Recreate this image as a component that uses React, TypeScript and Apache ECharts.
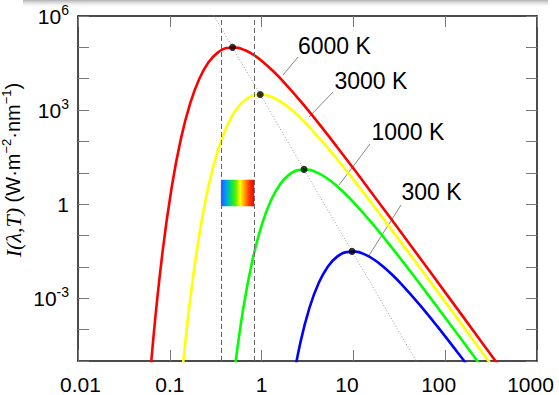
import React, { useEffect, useRef } from "react";
import * as echarts from "echarts";

// Wavelength (µm) and spectral intensity I(λ,T) (W·m⁻²·nm⁻¹)
const lambda6000 = [0.0527, 0.0664, 0.0835, 0.1052, 0.1324, 0.1667, 0.2098, 0.2642, 0.3325, 0.4186, 0.5271, 0.6636, 0.8353, 1.052, 1.324, 1.667, 2.642, 4.186, 6.636, 10.52, 26.42, 66.36, 166.7, 418.6];
const intensity6000 = [1.6e-8, 5.86e-5, 3.126e-2, 3.648, 125.6, 1642, 1.0e4, 33250, 68000, 94970, 98290, 80580, 55230, 33160, 17980, 9050, 1968, 376.4, 66.85, 11.36, 0.3063, 7.909e-3, 2.008e-4, 5.066e-6];

const lambda3000 = [0.1327, 0.1671, 0.2103, 0.2648, 0.3333, 0.4197, 0.5283, 0.665, 0.8373, 1.054, 1.327, 1.671, 2.103, 2.648, 3.333, 5.283, 8.373, 13.27, 21.03, 52.83, 132.7, 333.3];
const intensity3000 = [1.832e-6, 9.763e-4, 0.1139, 3.922, 51.3, 312.3, 1039, 2125, 2967, 3071, 2518, 1726, 1036, 561.9, 282.7, 61.48, 11.76, 2.089, 0.355, 9.57e-3, 2.471e-4, 6.275e-6];

const lambda1000 = [0.5012, 0.631, 0.7943, 1.0, 1.259, 1.585, 1.995, 2.512, 3.162, 3.981, 5.012, 6.31, 7.943, 10, 15.85, 25.12, 39.81, 63.1, 158.5, 398.1];
const intensity1000 = [4.018e-6, 4.688e-4, 1.614e-2, 0.2111, 1.286, 4.276, 8.749, 12.21, 12.64, 10.36, 7.102, 4.264, 2.313, 1.164, 0.253, 0.0484, 8.596e-3, 1.462e-3, 3.938e-5, 1.017e-6];

const lambda300 = [2.103, 2.648, 3.333, 4.197, 5.283, 6.65, 8.373, 10.54, 13.27, 16.71, 21.03, 26.48, 33.33, 52.83, 83.73, 132.7, 210.3];
const intensity300 = [1.139e-6, 3.922e-5, 5.13e-4, 3.123e-3, 1.039e-2, 2.125e-2, 2.967e-2, 3.071e-2, 2.518e-2, 1.726e-2, 1.036e-2, 5.619e-3, 2.827e-3, 6.148e-4, 1.176e-4, 2.089e-5, 3.55e-6];

// Wien displacement locus (dotted) end points
const wienX = [0.29, 50];
const wienY = [1.28e6, 8.4e-6];

// Peak markers
const peakX = [0.483, 0.966, 2.898, 9.66];
const peakY = [1.0e5, 3127, 12.87, 0.03127];

// Visible band (dashed lines + rainbow box)
const visibleX = [0.36, 0.83];
const rainbowY = [0.86, 6];

const curveNames = ["6000 K", "3000 K", "1000 K", "300 K"];
const curveColors = ["#ff0000", "#ffff00", "#00ff00", "#0000ff"];

const xTickLabels = ["0.01", "0.1", "1", "10", "100", "1000"];
const yTickExponents = [6, 3, 0, -3];

const SANS = "Liberation Sans, Arial, sans-serif";

export default function App() {
  const ref = useRef<HTMLDivElement>(null);

  useEffect(() => {
    document.body.style.margin = "0";
    if (!ref.current) return;
    const chart = echarts.init(ref.current, undefined, { renderer: "svg" });

    const curves = [
      [lambda6000, intensity6000],
      [lambda3000, intensity3000],
      [lambda1000, intensity1000],
      [lambda300, intensity300],
    ];

    const rainbow = new echarts.graphic.LinearGradient(0, 0, 1, 0, [
      { offset: 0, color: "#3050ff" },
      { offset: 0.14, color: "#0098ff" },
      { offset: 0.3, color: "#00e060" },
      { offset: 0.45, color: "#60f000" },
      { offset: 0.58, color: "#ffff00" },
      { offset: 0.72, color: "#ff9800" },
      { offset: 0.86, color: "#ff3000" },
      { offset: 1, color: "#ff0000" },
    ]);

    const xLabelFmt = (v: number) => {
      const idx = Math.round(Math.log10(v)) + 2;
      const t = xTickLabels[idx] ?? "";
      if (idx >= 3) return `{l|${t}}`;
      if (idx === 0) return `{r|${t}}`;
      return `{c|${t}}`;
    };
    const yLabelFmt = (v: number) => {
      const e = Math.round(Math.log10(v));
      if (!yTickExponents.includes(e)) return "";
      if (e === 0) return "{b|1}";
      return `{b|10}{s|${e}}`;
    };

    const tickStyle = { show: true, inside: true, length: 11, lineStyle: { color: "#777", width: 1 } };
    const lineStyle = { show: true, lineStyle: { color: "#111", width: 1.5 } };

    const option: any = {
      animation: false,
      backgroundColor: "#ffffff",
      grid: { left: 78, right: 22, top: 16, bottom: 29, containLabel: false },
      xAxis: [
        {
          type: "log", logBase: 10, min: 0.01, max: 1000, interval: 1, position: "bottom",
          axisLine: lineStyle, axisTick: tickStyle, splitLine: { show: false },
          axisLabel: {
            margin: 13, color: "#000", fontFamily: SANS, fontSize: 21, formatter: xLabelFmt,
            rich: {
              c: { fontFamily: SANS, fontSize: 21, color: "#000" },
              l: { fontFamily: SANS, fontSize: 21, color: "#000", padding: [0, 13, 0, 0] },
              r: { fontFamily: SANS, fontSize: 21, color: "#000", padding: [0, 0, 0, 5] },
            },
          },
        },
        {
          type: "log", logBase: 10, min: 0.01, max: 1000, interval: 1, position: "top",
          axisLine: lineStyle, axisTick: tickStyle, splitLine: { show: false }, axisLabel: { show: false },
        },
      ],
      yAxis: [
        {
          type: "log", logBase: 10, min: 1e-5, max: 1e6, interval: 1, position: "left",
          axisLine: lineStyle, axisTick: tickStyle, splitLine: { show: false },
          axisLabel: {
            margin: 9, color: "#000", fontFamily: SANS, fontSize: 21, formatter: yLabelFmt,
            rich: {
              b: { fontFamily: SANS, fontSize: 21, lineHeight: 26, color: "#000", verticalAlign: "middle" },
              s: { fontFamily: SANS, fontSize: 14, lineHeight: 14, color: "#000", verticalAlign: "top" },
            },
          },
        },
        {
          type: "log", logBase: 10, min: 1e-5, max: 1e6, interval: 1, position: "right",
          axisLine: lineStyle, axisTick: tickStyle, splitLine: { show: false }, axisLabel: { show: false },
        },
      ],
      series: [
        {
          type: "line",
          name: "Wien",
          data: wienX.map((x, i) => [x, wienY[i]]),
          showSymbol: false,
          silent: true,
          lineStyle: { color: "#999", width: 1, type: [1, 2] },
          z: 1,
          markLine: {
            silent: true,
            symbol: "none",
            label: { show: false },
            lineStyle: { color: "#666", width: 1, type: [5, 3] },
            data: visibleX.map((x) => ({ xAxis: x })),
          },
          markArea: {
            silent: true,
            itemStyle: { color: rainbow, borderWidth: 0 },
            label: { show: false },
            data: [[{ coord: [visibleX[0], rainbowY[1]] }, { coord: [visibleX[1], rainbowY[0]] }]],
          },
        },
        ...curves.map(([xs, ys], k) => ({
          type: "line",
          name: curveNames[k],
          data: xs.map((x, i) => [x, ys[i]]),
          showSymbol: false,
          smooth: 0.4,
          silent: true,
          clip: true,
          lineStyle: { color: curveColors[k], width: 2.6 },
          z: 3,
        })),
        {
          type: "scatter",
          name: "peaks",
          data: peakX.map((x, i) => [x, peakY[i]]),
          symbol: "circle",
          symbolSize: 7,
          itemStyle: { color: "#000" },
          silent: true,
          z: 5,
        },
      ],
      graphic: [
        {
          type: "rect",
          shape: { x: 23, y: 0, width: 525, height: 8 },
          style: {
            fill: new echarts.graphic.LinearGradient(0, 0, 0, 1, [
              { offset: 0, color: "rgba(150,150,150,0.75)" },
              { offset: 0.4, color: "rgba(190,190,190,0.45)" },
              { offset: 1, color: "rgba(255,255,255,0)" },
            ]),
          },
          silent: true,
        },
        {
          type: "text",
          x: 13,
          y: 170,
          rotation: Math.PI / 2,
          style: {
            text: "{i|I(λ,T)}{n| (W·m}{s|−2}{n|·nm}{s|−1}{n|)}",
            align: "center",
            verticalAlign: "middle",
            rich: {
              i: { fontFamily: "Liberation Serif, Times New Roman, serif", fontStyle: "italic", fontSize: 22, lineHeight: 26, fill: "#000", verticalAlign: "middle" },
              n: { fontFamily: SANS, fontSize: 20, lineHeight: 26, fill: "#000", verticalAlign: "middle" },
              s: { fontFamily: SANS, fontSize: 13, lineHeight: 13, fill: "#000", verticalAlign: "top" },
            },
          },
          silent: true,
        },
        { type: "line", shape: { x1: 283, y1: 75, x2: 298, y2: 57 }, style: { stroke: "#888", lineWidth: 1 }, silent: true },
        { type: "line", shape: { x1: 309, y1: 117, x2: 333, y2: 92 }, style: { stroke: "#888", lineWidth: 1 }, silent: true },
        { type: "line", shape: { x1: 339, y1: 185, x2: 370, y2: 144 }, style: { stroke: "#888", lineWidth: 1 }, silent: true },
        { type: "line", shape: { x1: 368, y1: 257, x2: 401, y2: 205 }, style: { stroke: "#888", lineWidth: 1 }, silent: true },
        ...[
          [298, 46],
          [334.5, 81],
          [371.5, 132],
          [401.5, 192],
        ].map(([x, y], k) => ({
          type: "text",
          x,
          y,
          style: { text: curveNames[k], fontFamily: SANS, fontSize: 23, fill: "#000", align: "left", verticalAlign: "middle" },
          silent: true,
        })),
      ],
    };

    chart.setOption(option);
    return () => chart.dispose();
  }, []);

  return <div ref={ref} style={{ width: 559, height: 395 }} />;
}
